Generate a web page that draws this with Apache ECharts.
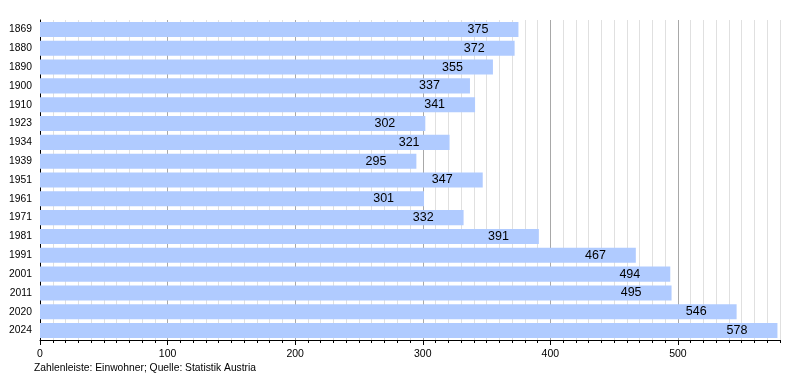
<!DOCTYPE html>
<html>
<head>
<meta charset="utf-8">
<script src="https://cdn.jsdelivr.net/npm/echarts@6/dist/echarts.min.js"></script>
<style>html,body{margin:0;padding:0;background:#fff}#c{width:800px;height:380px}</style>
</head>
<body>
<div id="c"></div>
<script>
const years = ['1869','1880','1890','1900','1910','1923','1934','1939','1951','1961','1971','1981','1991','2001','2011','2020','2024'];
const population = [375,372,355,337,341,302,321,295,347,301,332,391,467,494,495,546,578];
const footer = 'Zahlenleiste: Einwohner; Quelle: Statistik Austria';

const FONT = '"Liberation Sans", Arial, Helvetica, sans-serif';
const chart = echarts.init(document.getElementById('c'), null, {renderer: 'canvas'});
chart.setOption({
  animation: false,
  textStyle: {fontFamily: FONT},
  grid: {left: 40, right: 20, top: 20, bottom: 40, containLabel: false},
  xAxis: [
    {
      type: 'value', min: 0, max: 580, interval: 10, position: 'bottom',
      axisLine: {show: false},
      axisTick: {show: true, length: 3, lineStyle: {color: '#000'}},
      axisLabel: {show: false},
      splitLine: {show: true, lineStyle: {color: '#e0e0e0', width: 1}}
    },
    {
      type: 'value', min: 0, max: 580, interval: 100, position: 'bottom', offset: 0,
      axisLine: {show: true, onZero: false, lineStyle: {color: '#000', width: 1}},
      axisTick: {show: true, length: 5, lineStyle: {color: '#000'}},
      axisLabel: {show: true, showMaxLabel: false, fontSize: 10.5, color: '#000', margin: 9, fontFamily: FONT},
      splitLine: {show: true, lineStyle: {color: ['#a8a8a8','#a8a8a8','#a8a8a8','#a8a8a8','#a8a8a8','#a8a8a8','#e0e0e0'], width: 1}}
    }
  ],
  yAxis: {
    type: 'category', data: years, inverse: true,
    axisLine: {show: true, lineStyle: {color: '#000', width: 1}},
    axisTick: {show: false},
    axisLabel: {fontSize: 10.3, color: '#000', margin: 8, fontFamily: FONT},
    splitLine: {show: false}
  },
  series: [{
    type: 'bar', data: population, xAxisIndex: 1,
    barCategoryGap: '20%',
    itemStyle: {color: '#b0cbff'},
    label: {show: true, position: 'insideRight', distance: 30, color: '#000', fontSize: 12.5, fontFamily: FONT},
    z: 3
  }],
  graphic: [{
    type: 'text', left: 34, top: 363,
    style: {text: footer, fontSize: 10.3, fill: '#000', fontFamily: FONT}
  }]
});
</script>
</body>
</html>
